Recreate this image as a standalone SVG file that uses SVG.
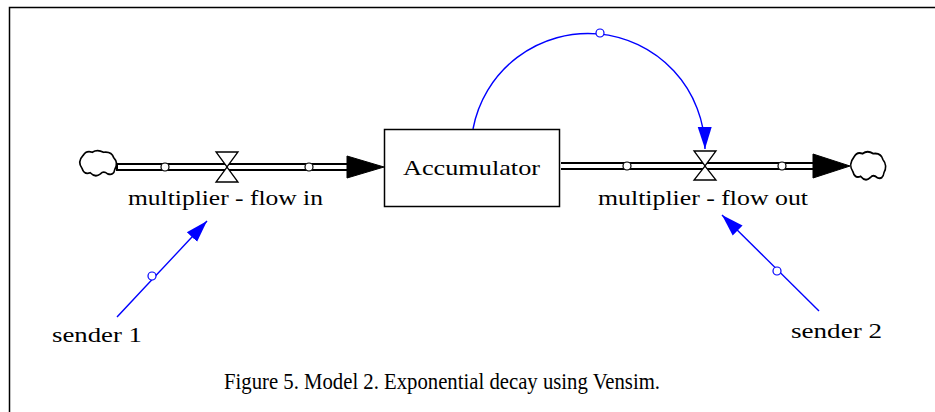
<svg xmlns="http://www.w3.org/2000/svg" width="935" height="412" viewBox="0 0 935 412">
  <style>
    .lbl { font-family: "Liberation Serif", "Times New Roman", serif; font-size: 21px; fill: #000; }
    .cap { font-family: "Liberation Serif", "Times New Roman", serif; font-size: 23px; fill: #000; }
    .cloud { fill: #fff; stroke: #000; stroke-width: 1.6; }
    .valve { fill: #fff; stroke: #000; stroke-width: 1.3; }
    .pipeOuter { stroke: #000; stroke-width: 8; fill: none; }
    .pipeInner { stroke: #fff; stroke-width: 4; fill: none; }
    .pipeDot { fill: #fff; stroke: #000; stroke-width: 1.2; }
    .link { stroke: #0000ff; stroke-width: 1.4; fill: none; }
    .linkDot { fill: #fff; stroke: #0000ff; stroke-width: 1.2; }
    .flowHead { fill: #000; stroke: #000; stroke-width: 1; }
  </style>
  <defs>
    <marker id="blueArrow" markerUnits="userSpaceOnUse" markerWidth="24" markerHeight="16" refX="22" refY="8" orient="auto">
      <path d="M0,1 L22,8 L0,15 Z" fill="#0000ff"/>
    </marker>
    <path id="cloudShape" d="M5,6 Q8,1 14,3 Q19,0 25,3 Q33,2 35,8 Q40,13 36,19 Q35,25 29,23 Q25,20 22,23 Q17,27 12,22 Q6,24 4,18 Q-1,12 5,6 Z"/>
  </defs>

  <rect x="0" y="0" width="935" height="412" fill="#fff"/>
  <path d="M9.5,412 V7.5 H935" fill="none" stroke="#000" stroke-width="1.5"/>

  <g id="connectors">
    <!-- inflow pipe -->
    <line class="pipeOuter" x1="116" y1="167" x2="348" y2="167"/>
    <line class="pipeInner" x1="118" y1="167" x2="349" y2="167"/>
    <polygon class="flowHead" points="347,156 384,167 347,178"/>
    <circle class="pipeDot" cx="165" cy="167" r="4"/>
    <circle class="pipeDot" cx="309" cy="167" r="4"/>
    <!-- outflow pipe -->
    <line class="pipeOuter" x1="561" y1="166" x2="814" y2="166"/>
    <line class="pipeInner" x1="561" y1="166" x2="815" y2="166"/>
    <polygon class="flowHead" points="813,154 850,166 813,178"/>
    <circle class="pipeDot" cx="627" cy="166" r="4"/>
    <circle class="pipeDot" cx="782" cy="166" r="4"/>
    <!-- information links -->
    <path class="link" d="M473,129 A117,117 0 0 1 705,149" marker-end="url(#blueArrow)"/>
    <circle class="linkDot" cx="600" cy="33" r="4"/>
    <line class="link" x1="117" y1="317" x2="207" y2="221" marker-end="url(#blueArrow)"/>
    <circle class="linkDot" cx="152" cy="276" r="4"/>
    <line class="link" x1="819" y1="311" x2="722" y2="215" marker-end="url(#blueArrow)"/>
    <circle class="linkDot" cx="777" cy="271" r="4"/>
  </g>

  <g id="source-cloud">
    <use href="#cloudShape" class="cloud" transform="translate(78,149) scale(1.02,1.08)"/>
  </g>
  <g id="sink-cloud">
    <use href="#cloudShape" class="cloud" transform="translate(849,150) scale(0.97,1.2)"/>
  </g>

  <g id="accumulator">
    <rect x="384.5" y="129.5" width="175" height="77" fill="#fff" stroke="#000" stroke-width="1.5"/>
    <text class="lbl" x="403" y="175" textLength="137" lengthAdjust="spacingAndGlyphs">Accumulator</text>
  </g>

  <g id="flow-in">
    <polygon class="valve" points="216,152 238,152 227,167"/>
    <polygon class="valve" points="216,182 238,182 227,167"/>
    <text class="lbl" x="128" y="205" textLength="195" lengthAdjust="spacingAndGlyphs">multiplier - flow in</text>
  </g>

  <g id="flow-out">
    <polygon class="valve" points="694,151 716,151 705,166"/>
    <polygon class="valve" points="694,180 716,180 705,166"/>
    <text class="lbl" x="598" y="205" textLength="210" lengthAdjust="spacingAndGlyphs">multiplier - flow out</text>
  </g>

  <g id="sender1">
    <text class="lbl" x="52" y="342" textLength="90" lengthAdjust="spacingAndGlyphs">sender 1</text>
  </g>
  <g id="sender2">
    <text class="lbl" x="791" y="338" textLength="91" lengthAdjust="spacingAndGlyphs">sender 2</text>
  </g>

  <g id="caption">
    <text class="cap" x="224" y="389" textLength="436" lengthAdjust="spacingAndGlyphs">Figure 5. Model 2. Exponential decay using Vensim.</text>
  </g>
</svg>
